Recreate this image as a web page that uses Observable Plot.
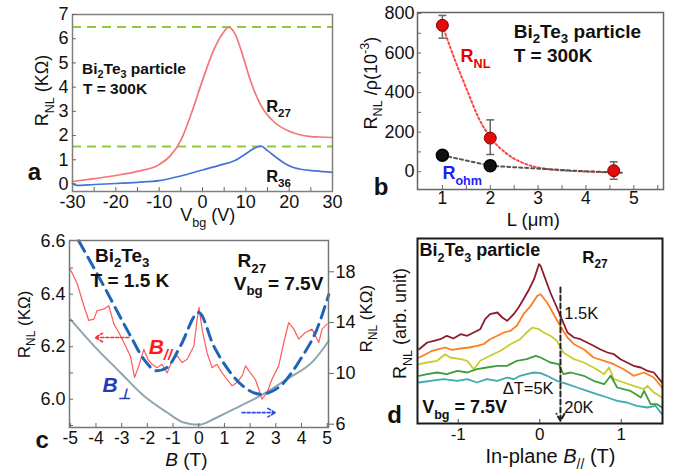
<!DOCTYPE html>
<html><head><meta charset="utf-8">
<script src="https://cdn.jsdelivr.net/npm/d3@7"></script>
<script src="https://cdn.jsdelivr.net/npm/@observablehq/plot@0.6"></script>
<style>
html,body{margin:0;padding:0;background:#fff;}
#fig{position:relative;width:677px;height:476px;overflow:hidden;background:#fff;}
#fig svg{position:absolute;}
</style></head><body><div id="fig"></div>
<script>
// ---------- Panel a data ----------
const a27V = [-30,-25,-20,-15,-10,-7.5,-5,-2.5,0,2.5,5,6,7.5,9.3,11.2,13.5,16.6,20,25,27,30];
const a27R = [0.1,0.22,0.35,0.52,0.8,1.15,1.8,2.95,4.28,5.5,6.3,6.48,6.2,5.31,4.2,3.24,2.55,2.18,1.96,1.94,1.92];
const a36V = [-30,-29,-25,-20,-15,-10,-5,0,4,7.5,10,12,13.5,15,17,19,21,23,26,30];
const a36R = [0.03,-0.06,-0.02,0.02,0.07,0.14,0.33,0.58,0.78,0.97,1.25,1.48,1.57,1.38,1.1,0.85,0.68,0.6,0.54,0.48];
const aLevels = [6.48, 1.55];
const aXTicks = [-30,-20,-10,0,10,20,30];
const aXMinor = [-25,-20,-15,-10,-5,0,5,10,15,20,25];
const aYTicks = [0,1,2,3,4,5,6,7];

// ---------- Panel b data ----------
const bNLL = [1, 2, 4.58];
const bNLV = [740, 170, 5];
const bNLLo = [675, 87, -38];
const bNLHi = [790, 262, 50];
const bOhmL = [1, 2];
const bOhmV = [83, 30];
const bOhmLineL = [1, 2, 2.9, 3.9, 4.75];
const bOhmLineV = [83, 30, 17, 3, -5];
const bFitL = [1, 1.27, 1.52, 1.75, 2, 2.35, 2.75, 3.25, 3.9, 4.75];
const bFitV = [740, 560, 410, 275, 175, 90, 38, 12, 2, -5];
const bXTicks = [1,2,3,4,5];
const bXMinor = [1,1.5,2,2.5,3,3.5,4,4.5,5,5.5];
const bYTicks = [0,200,400,600,800];
const bYMinor = [0,100,200,300,400,500,600,700,800];

// ---------- Panel c data ----------
const cParB = [-5,-4.73,-4.47,-4.28,-4.08,-3.96,-3.7,-3.5,-3.3,-3.11,-2.85,-2.66,-2.5,-2.33,-2.14,-1.98,-1.82,-1.62,-1.43,-1.23,-1.04,-0.84,-0.65,-0.45,-0.19,-0.06,0.01,0.13,0.32,0.52,0.71,0.91,1.1,1.3,1.49,1.69,1.82,2.01,2.2,2.36,2.46,2.66,2.85,3.11,3.31,3.5,3.7,3.89,4.15,4.41,4.67,4.8,4.99];
const cParR = [6.495,6.44,6.356,6.30,6.305,6.337,6.343,6.356,6.286,6.254,6.203,6.165,6.083,6.127,6.19,6.152,6.133,6.12,6.133,6.10,6.146,6.165,6.14,6.152,6.203,6.305,6.35,6.267,6.178,6.12,6.133,6.10,6.076,6.051,6.064,6.09,6.127,6.10,6.076,6.032,6.0,6.025,6.076,6.127,6.216,6.292,6.267,6.229,6.254,6.267,6.216,6.267,6.286];
const cFitB = [-4.67,-3.7,-2.66,-2.14,-1.62,-1.23,-0.71,0,0.58,1.23,1.88,2.4,3.18,3.96,4.6,5.06];
const cFitR = [20.44,16.9,12.96,11.12,10.2,10.46,12.17,14.8,12.17,10.07,8.76,8.36,9.02,11.12,13.48,16.2];
const cPerpB = [-5,-4.08,-3.05,-2.14,-1.23,-0.58,0,0.71,1.62,2.4,3.44,4.47,5.06];
const cPerpR = [14.27,12.17,10.07,8.24,6.92,6.13,5.95,6.53,7.45,8.24,9.55,11.0,12.57];
const cXTicks = [-5,-4,-3,-2,-1,0,1,2,3,4,5];
const cYTicks = [6.0,6.2,6.4,6.6];
const cYMinor = [5.9,6.0,6.1,6.2,6.3,6.4,6.5];
const cRightTicks = [6,10,14,18];
const cArrowRed = {x1: [-2.72], x2: [-4.03], y: [6.235]};
const cArrowBlue = {x1: [1.69], x2: [2.98], y: [6.91]};
// right axis (kΩ) -> left axis units
const toLeft = r => 5.9048 + (r - 6) * 0.04838;
const toRight = l => 6 + (l - 5.9048) / 0.04838;

// ---------- Panel d data ----------
const d1B = [-1.48,-1.38,-1.3,-1.22,-1.14,-1.06,-0.97,-0.89,-0.81,-0.73,-0.67,-0.61,-0.52,-0.46,-0.4,-0.32,-0.26,-0.2,-0.13,-0.07,-0.01,0.01,0.07,0.13,0.21,0.27,0.34,0.42,0.5,0.58,0.66,0.74,0.83,0.91,0.99,1.07,1.15,1.24,1.32,1.4,1.5];
const d1V = [7.43,8.1,8.27,8.43,8.77,8.5,8.93,8.77,9.1,9.43,10.43,10.93,11.1,10.6,10.27,10.93,11.6,12.43,13.43,14.43,15.93,15.77,14.43,13.1,11.6,10.43,9.1,8.6,8.43,8.1,7.77,7.43,7.1,6.93,6.43,6.1,5.77,5.6,5.27,5.1,4.1];
const d2B = [-1.48,-1.4,-1.32,-1.24,-1.16,-1.08,-0.97,-0.87,-0.77,-0.69,-0.61,-0.52,-0.44,-0.36,-0.28,-0.2,-0.11,-0.03,0.01,0.09,0.17,0.25,0.34,0.42,0.54,0.66,0.79,0.91,1.03,1.15,1.28,1.4,1.5];
const d2V = [6.6,6.93,7.27,7.43,7.6,7.37,7.5,7.6,7.77,7.93,8.43,8.77,9.1,9.27,9.77,10.93,11.77,12.77,12.93,12.1,10.93,9.77,8.6,7.93,7.43,6.6,6.27,5.93,5.43,4.77,5.1,4.6,3.6];
const d3B = [-1.48,-1.38,-1.26,-1.16,-1.1,-0.97,-0.89,-0.81,-0.73,-0.61,-0.48,-0.36,-0.24,-0.16,-0.09,-0.01,0.05,0.13,0.21,0.29,0.42,0.54,0.66,0.79,0.85,0.91,1.03,1.15,1.28,1.32,1.4,1.5];
const d3V = [5.93,6.1,6.27,6.93,6.6,6.43,6.27,5.43,6.27,6.77,7.27,7.93,8.43,9.1,9.6,9.43,9.1,8.77,8.27,7.1,6.43,6.1,5.6,4.93,5.6,4.43,4.1,3.77,3.43,3.77,3.1,2.6];
const d4B = [-1.48,-1.38,-1.26,-1.14,-1.01,-0.89,-0.77,-0.65,-0.52,-0.4,-0.28,-0.16,-0.05,0.01,0.13,0.23,0.29,0.38,0.54,0.66,0.79,0.87,0.95,1.11,1.24,1.28,1.36,1.44,1.5];
const d4V = [4.77,4.93,5.1,4.93,5.27,5.1,5.43,5.6,5.77,5.77,6.27,6.43,6.77,6.6,6.1,5.93,4.93,5.1,4.77,4.27,3.93,4.77,3.6,3.27,2.6,3.27,1.93,1.93,1.6];
const d5B = [-1.48,-1.34,-1.18,-1.01,-0.89,-0.77,-0.65,-0.52,-0.4,-0.32,-0.24,-0.16,-0.07,0.01,0.09,0.21,0.34,0.46,0.58,0.7,0.83,0.95,1.07,1.19,1.32,1.42,1.5];
const d5V = [4.1,4.27,4.43,4.27,4.43,4.1,4.43,4.27,4.6,4.43,4.77,4.93,5.1,5.03,4.77,4.27,3.93,3.6,3.27,2.93,2.6,2.27,2.1,1.77,1.6,1.77,0.93];
const dSeries = [[d1B,d1V,"#8a1c2e"],[d2B,d2V,"#ff7f1f"],[d3B,d3V,"#c8cd2c"],[d4B,d4V,"#3f9c3c"],[d5B,d5V,"#3eaab0"]];
const dXTicks = [-1,0,1];
const dArrow = {x: [0.254], y1: [13.6], y2: [0.27]};

// ---------- helpers ----------
const FONT = "'Liberation Sans', Arial, Helvetica, sans-serif";
const STYLE = {background: "transparent", fontFamily: FONT, overflow: "hidden"};
const fig = document.getElementById("fig");
const capSymbol = {draw(ctx, size) { const r = Math.sqrt(size / Math.PI); ctx.moveTo(-r, 0); ctx.lineTo(r, 0); }};

function richText(svg) {
  svg.querySelectorAll("text").forEach(t => {
    const s = t.textContent;
    if (!/[_^*]\{/.test(s)) return;
    const fs = parseFloat(getComputedStyle(t).fontSize) || 16;
    while (t.firstChild) t.removeChild(t.firstChild);
    let shift = 0;
    for (const p of s.split(/([_^*]\{[^}]*\})/)) {
      if (!p) continue;
      const ts = document.createElementNS("http://www.w3.org/2000/svg", "tspan");
      let target = 0, txt = p;
      const m = p.match(/^([_^*])\{([^}]*)\}$/);
      if (m) {
        txt = m[2];
        if (m[1] === "_") { target = 0.3 * fs; ts.setAttribute("font-size", 0.7 * fs); }
        else if (m[1] === "^") { target = -0.42 * fs; ts.setAttribute("font-size", 0.7 * fs); }
        else ts.setAttribute("font-style", "italic");
      }
      if (target !== shift) { ts.setAttribute("dy", target - shift); shift = target; }
      ts.textContent = txt;
      t.appendChild(ts);
    }
  });
}
function place(svg, left, top) {
  svg.style.position = "absolute";
  svg.style.left = left + "px";
  svg.style.top = top + "px";
  fig.appendChild(svg);
  richText(svg);
}
const txt = (s, o) => Plot.text([s], {textAnchor: "start", lineAnchor: "middle", fill: "#111", ...o});
const fmt = d => String(d);

// ---------- Panel a ----------
const pa = Plot.plot({
  width: 348, height: 232, marginLeft: 72, marginRight: 16, marginTop: 14, marginBottom: 41,
  style: STYLE,
  x: {domain: [-30, 30]}, y: {domain: [-0.31, 7.0]},
  marks: [
    Plot.ruleY(aLevels, {stroke: "#8dcb3c", strokeWidth: 2, strokeDasharray: "9,6"}),
    Plot.line(a27V, {x: a27V, y: a27R, stroke: "#f47676", strokeWidth: 1.7, curve: "monotone-x"}),
    Plot.line(a36V, {x: a36V, y: a36R, stroke: "#4472d8", strokeWidth: 1.7, curve: "monotone-x"}),
    Plot.frame({stroke: "#808080", strokeWidth: 1.5}),
    Plot.axisX(aXTicks, {tickSize: 0, tickPadding: 4, fontSize: 18, tickFormat: fmt, label: null, fill: "#111"}),
    Plot.axisX(aXMinor, {tickSize: 4, dy: -4, fill: "none", stroke: "#666", label: null}),
    Plot.axisY(aYTicks, {tickSize: 0, tickPadding: 4, fontSize: 18, tickFormat: fmt, label: null, fill: "#111"}),
    Plot.axisY(aYTicks, {tickSize: 4, dx: 4, fill: "none", stroke: "#666", label: null}),
    txt("Bi_{2}Te_{3} particle", {x: -27.8, y: 4.76, fontWeight: "bold", fontSize: 15.5}),
    txt("T = 300K", {x: -27.6, y: 3.92, fontWeight: "bold", fontSize: 15.5}),
    txt("R_{27}", {x: 14.7, y: 3.2, fontWeight: "bold", fontSize: 16.5}),
    txt("R_{36}", {x: 14.7, y: 0.31, fontWeight: "bold", fontSize: 16.5}),
    txt("a", {x: -38.8, y: 0.48, fontWeight: "bold", fontSize: 24, textAnchor: "middle"}),
    txt("R_{NL} (KΩ)", {x: -36.9, y: 3.86, rotate: -90, fontSize: 18, textAnchor: "middle"}),
    txt("V_{bg} (V)", {x: 1.23, y: -1.3, fontSize: 18, textAnchor: "middle"})
  ]
});
place(pa, 0, 0);

// ---------- Panel b ----------
const pb = Plot.plot({
  width: 337, height: 232, marginLeft: 77, marginRight: 14, marginTop: 12, marginBottom: 43,
  style: STYLE,
  x: {domain: [0.48, 5.62]}, y: {domain: [-90, 805]},
  marks: [
    Plot.line(bFitL, {x: bFitL, y: bFitV, stroke: "#ff4646", strokeWidth: 2, strokeDasharray: "2,2.5", curve: "monotone-x"}),
    Plot.line(bOhmLineL, {x: bOhmLineL, y: bOhmLineV, stroke: "#555", strokeWidth: 2, strokeDasharray: "3,3"}),
    Plot.ruleX(bNLL, {x: bNLL, y1: bNLLo, y2: bNLHi, stroke: "#666", strokeWidth: 1.5}),
    Plot.dot(bNLL, {x: bNLL, y: bNLHi, symbol: capSymbol, r: 4, stroke: "#666", strokeWidth: 1.5, fill: "none"}),
    Plot.dot(bNLL, {x: bNLL, y: bNLLo, symbol: capSymbol, r: 4, stroke: "#666", strokeWidth: 1.5, fill: "none"}),
    Plot.dot(bNLL, {x: bNLL, y: bNLV, r: 6, fill: "#e10c0c", stroke: "#8a0000", strokeWidth: 1}),
    Plot.dot(bOhmL, {x: bOhmL, y: bOhmV, r: 6, fill: "#111", stroke: "#000"}),
    Plot.frame({stroke: "#666", strokeWidth: 1.5}),
    Plot.axisX(bXTicks, {tickSize: 0, tickPadding: 2, fontSize: 17.5, tickFormat: fmt, label: null, fill: "#111"}),
    Plot.axisX(bXMinor, {tickSize: 4, dy: -4, fill: "none", stroke: "#666", label: null}),
    Plot.axisY(bYTicks, {tickSize: 0, tickPadding: 3, fontSize: 18, tickFormat: fmt, label: null, fill: "#111"}),
    Plot.axisY(bYMinor, {tickSize: 4, dx: 4, fill: "none", stroke: "#666", label: null}),
    txt("Bi_{2}Te_{3} particle", {x: 2.49, y: 709, fontWeight: "bold", fontSize: 19}),
    txt("T = 300K", {x: 2.49, y: 583, fontWeight: "bold", fontSize: 19}),
    txt("R_{NL}", {x: 1.38, y: 583, fontWeight: "bold", fontSize: 18, fill: "#e60000"}),
    txt("R_{ohm}", {x: 1.0, y: -10, fontWeight: "bold", fontSize: 18, fill: "#1c1ff0"}),
    txt("b", {x: -0.28, y: -79, fontWeight: "bold", fontSize: 24, textAnchor: "middle"}),
    txt("R_{NL} /ρ(10^{-3})", {x: -0.497, y: 448, rotate: -90, fontSize: 18, textAnchor: "middle"}),
    txt("L (μm)", {x: 2.9, y: -245, fontSize: 18.5, textAnchor: "middle"})
  ]
});
place(pb, 340, 0);

// ---------- Panel c ----------
const pc = Plot.plot({
  width: 380, height: 246, marginLeft: 69, marginRight: 52, marginTop: 10, marginBottom: 49,
  style: STYLE,
  x: {domain: [-5.03, 5.05]}, y: {domain: [5.8922, 6.6046]},
  marks: [
    Plot.line(cPerpB, {x: cPerpB, y: cPerpR.map(toLeft), stroke: "#8ea6b0", strokeWidth: 2, curve: "monotone-x"}),
    Plot.line(cParB, {x: cParB, y: cParR, stroke: "#ff5a5a", strokeWidth: 1.2}),
    Plot.line(cFitB, {x: cFitB, y: cFitR.map(toLeft), stroke: "#2064b8", strokeWidth: 3, strokeDasharray: "12,7", curve: "monotone-x"}),
    Plot.arrow(cArrowRed.x1, {x1: cArrowRed.x1, x2: cArrowRed.x2, y1: cArrowRed.y, y2: cArrowRed.y, stroke: "#ff3030", strokeWidth: 1.6, strokeDasharray: "3,2", headLength: 8}),
    Plot.arrow(cArrowBlue.x1, {x1: cArrowBlue.x1, x2: cArrowBlue.x2, y1: cArrowBlue.y.map(toLeft), y2: cArrowBlue.y.map(toLeft), stroke: "#2c4ce6", strokeWidth: 1.6, strokeDasharray: "3,2", headLength: 8}),
    Plot.frame({stroke: "#777", strokeWidth: 1.5}),
    Plot.axisX(cXTicks, {tickSize: 0, tickPadding: 4, fontSize: 17.5, tickFormat: fmt, label: null, fill: "#111"}),
    Plot.axisX(cXTicks, {tickSize: 4, dy: -4, fill: "none", stroke: "#666", label: null}),
    Plot.axisY(cYTicks, {tickSize: 0, tickPadding: 4, fontSize: 18, tickFormat: d => d.toFixed(1), label: null, fill: "#111"}),
    Plot.axisY(cYMinor, {tickSize: 4, dx: 4, fill: "none", stroke: "#666", label: null}),
    Plot.axisY(cRightTicks.map(toLeft), {anchor: "right", tickSize: 5, tickPadding: 2, fontSize: 18, tickFormat: d => String(Math.round(toRight(d))), label: null, stroke: "#666", fill: "#111"}),
    txt("Bi_{2}Te_{3}", {x: -4.04, y: 6.547, fontWeight: "bold", fontSize: 19}),
    txt("T = 1.5 K", {x: -4.21, y: 6.452, fontWeight: "bold", fontSize: 19}),
    txt("R_{27}", {x: 1.51, y: 6.526, fontWeight: "bold", fontSize: 19}),
    txt("V_{bg} = 7.5V", {x: 1.36, y: 6.44, fontWeight: "bold", fontSize: 19}),
    txt("B_{//}", {x: -1.95, y: 6.198, fontWeight: "bold", fontStyle: "italic", fontSize: 21, fill: "#ff1a1a"}),
    txt("B_{⊥}", {x: -3.75, y: 6.052, fontWeight: "bold", fontStyle: "italic", fontSize: 21, fill: "#1f3fb5"}),
    txt("c", {x: -6.09, y: 5.843, fontWeight: "bold", fontSize: 24, textAnchor: "middle"}),
    txt("R_{NL} (KΩ)", {x: -6.78, y: 6.285, rotate: -90, fontSize: 17, textAnchor: "middle"}),
    txt("R_{NL} (KΩ)", {x: 6.53, y: 6.307, rotate: -90, fontSize: 17, textAnchor: "middle"}),
    txt("*{B} (T)", {x: -0.48, y: 5.7703, fontSize: 19, textAnchor: "middle"})
  ]
});
place(pc, 0, 230);

// ---------- Panel d ----------
const pd = Plot.plot({
  width: 337, height: 246, marginLeft: 77, marginRight: 15, marginTop: 8, marginBottom: 53,
  style: STYLE,
  x: {domain: [-1.5, 1.506]}, y: {domain: [0, 18.5], axis: null},
  marks: [
    ...dSeries.map(([b, v, c]) => Plot.line(b, {x: b, y: v, stroke: c, strokeWidth: 1.8})),
    Plot.arrow(dArrow.x, {x1: dArrow.x, x2: dArrow.x, y1: dArrow.y1, y2: dArrow.y2, stroke: "#222", strokeWidth: 2, strokeDasharray: "5,3", headLength: 6}),
    Plot.frame({stroke: "#1a1a1a", strokeWidth: 2}),
    Plot.axisX(dXTicks, {tickSize: 0, tickPadding: 4, fontSize: 17, tickFormat: fmt, label: null, fill: "#111"}),
    Plot.axisX(dXTicks, {tickSize: 4, dy: -4, fill: "none", stroke: "#444", label: null}),
    txt("Bi_{2}Te_{3} particle", {x: -1.476, y: 17.3, fontWeight: "bold", fontSize: 18}),
    txt("R_{27}", {x: 0.52, y: 16.6, fontWeight: "bold", fontSize: 17}),
    txt("1.5K", {x: 0.3, y: 10.93, fontSize: 16.5}),
    txt("ΔT=5K", {x: 0.17, y: 3.43, fontSize: 16.5, textAnchor: "end"}),
    txt("20K", {x: 0.3, y: 1.6, fontSize: 16.5}),
    txt("V_{bg} = 7.5V", {x: -1.443, y: 1.6, fontWeight: "bold", fontSize: 18}),
    txt("d", {x: -1.78, y: 0.8, fontWeight: "bold", fontSize: 24, textAnchor: "middle"}),
    txt("R_{NL} (arb. unit)", {x: -1.709, y: 10, rotate: -90, fontSize: 18, textAnchor: "middle"}),
    txt("In-plane *{B}_{//} (T)", {x: 0.131, y: -3.3, fontSize: 20, textAnchor: "middle"})
  ]
});
place(pd, 340, 230);
</script></body></html>
